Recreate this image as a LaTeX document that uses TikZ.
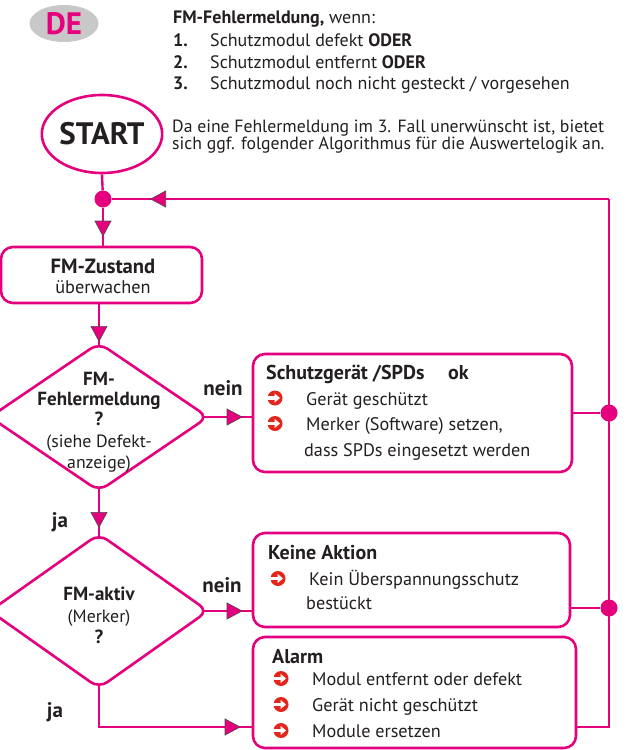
\documentclass[tikz,border=0pt]{standalone}
\usepackage{fontspec}
\setmainfont{PT Sans}
\usetikzlibrary{arrows.meta,decorations.markings,shapes.geometric}
\definecolor{mag}{HTML}{E5007D}
\definecolor{bred}{HTML}{E3261B}
\definecolor{txt}{HTML}{231F20}
\definecolor{degray}{HTML}{C8C8C8}
\tikzset{
  conn/.style={draw=mag,line width=2.4pt},
  arrowpos/.style={postaction={decorate},decoration={markings,
    mark=at position #1 with {\arrow{Triangle[length=16pt,width=17pt,fill=mag,color=black!70,line width=0.6pt]}}}},
  box/.style={draw=mag,line width=2.6pt,rounded corners=12pt,inner sep=0pt},
  jdot/.style={circle,fill=mag,minimum size=17pt,inner sep=0pt},
  tl/.style={text=txt,inner sep=0pt,anchor=base west,font=\fontsize{18.2}{18}\selectfont},
  tc/.style={text=txt,inner sep=0pt,anchor=base,font=\fontsize{18}{18}\selectfont},
  tb/.style={font=\fontsize{20}{20}\selectfont\bfseries},
  qb/.style={font=\fontsize{19}{19}\selectfont\bfseries},
  qr/.style={font=\fontsize{17.8}{18}\selectfont},
  yn/.style={font=\fontsize{21}{21}\selectfont\bfseries},
  hd/.style={text=txt,inner sep=0pt,anchor=base west,font=\fontsize{18}{18}\selectfont},
  hdb/.style={font=\fontsize{18}{18}\selectfont\bfseries},
  diam/.style={draw=mag,line width=2.6pt,rounded corners=10pt},
  bulpic/.pic={
    \fill[bred] (0,0) circle (7.5pt);
    \fill[white] (-8,-1.7) rectangle (0.5,1.7);
    \fill[white] (-0.5,-4.6) -- (5,0) -- (-0.5,4.6) -- cycle;
  },
}
\begin{document}
\begin{tikzpicture}[x=1pt,y=-1pt]
\useasboundingbox (0,0) rectangle (629,750);
\fill[white] (0,0) rectangle (629,750);

% header
\node[ellipse,fill=degray,minimum width=69pt,minimum height=37pt,inner sep=0pt,
  text=mag,font=\fontsize{31}{31}\selectfont\bfseries] (de) at (64,23.5) {DE};
\node[hd] (h0) at (173,23) {\bfseries FM-Fehlermeldung,\mdseries{} wenn:};
\node[hd,hdb] (n1) at (173,46.5) {1.};
\node[hd,hdb] (n2) at (173,68) {2.};
\node[hd,hdb] (n3) at (173,89) {3.};
\node[hd] (h1) at (210,46.5) {Schutzmodul defekt \textbf{ODER}};
\node[hd] (h2) at (210,68) {Schutzmodul entfernt \textbf{ODER}};
\node[hd] (h3) at (210,89) {Schutzmodul noch nicht gesteckt / vorgesehen};
\node[tl,font=\fontsize{17.7}{18}\selectfont] (p1) at (172,132) {Da eine Fehlermeldung im 3. Fall unerwünscht ist, bietet};
\node[tl,font=\fontsize{17.7}{18}\selectfont] (p2) at (172,149.5) {sich ggf. folgender Algorithmus für die Auswertelogik an.};

% start
\node[ellipse,draw=mag,line width=2.6pt,minimum width=102pt,minimum height=78pt,inner sep=0pt,
  text=txt,font=\fontsize{31}{31}\selectfont\bfseries] (start) at (102,134) {START};

% junctions and corners
\node[jdot] (j0) at (103,199) {};
\node[jdot] (j1) at (609,413) {};
\node[jdot] (j2) at (609,608) {};
\coordinate (ctr) at (609,199);

% boxes
\node[box,minimum width=201pt,minimum height=56pt] (fmz) at (101.5,275) {};
\node[box,minimum width=319pt,minimum height=118pt] (sch) at (412.5,413) {};
\node[box,minimum width=317pt,minimum height=94pt] (kein) at (411.5,580) {};
\node[box,minimum width=323pt,minimum height=111pt] (alarm) at (414.5,692.5) {};

% diamonds
\draw[diam] (99,343) -- (208,417) -- (99,491) -- (-10,417) -- cycle;
\coordinate (d1n) at (99,346);
\coordinate (d1e) at (202,417);
\coordinate (d1s) at (99,488);
\draw[diam] (99,534) -- (208,611) -- (99,688) -- (-10,611) -- cycle;
\coordinate (d2n) at (99,537);
\coordinate (d2e) at (202,611);
\coordinate (d2s) at (99,685);
\coordinate (bend) at (99,727);

% connectors
\draw[conn] (start.south) -- (j0);
\draw[conn,arrowpos=459pt] (ctr) -- (j0);
\draw[conn,arrowpos=-9pt] (j0) -- (j0 |- fmz.north);
\draw[conn,arrowpos=-4pt] (d1n |- fmz.south) -- (d1n);
\draw[conn,arrowpos=-9pt] (d1e) -- (d1e -| sch.west);
\draw[conn,arrowpos=-9pt] (d1s) -- (d2n);
\draw[conn,arrowpos=-9pt] (d2e) -- (d2e -| kein.west);
\draw[conn,arrowpos=-11pt] (d2s) -- (bend) -- (bend -| alarm.west);
\draw[conn] (j1 -| sch.east) -- (j1);
\draw[conn] (j2 -| kein.east) -- (j2);
\draw[conn] (bend -| alarm.east) -| (ctr);

% box texts
\node[tc,font=\fontsize{20.6}{20}\selectfont\bfseries] (t1) at (103,273) {FM-Zustand};
\node[tc,font=\fontsize{18.3}{18}\selectfont] (t2) at (103,293.5) {überwachen};

\node[tc,qb] (q1) at (99,385) {FM-};
\node[tc,qb] (q2) at (99,405) {Fehlermeldung};
\node[tc,qb] (q3) at (99,425) {?};
\node[tc,qr] (q4) at (99,447.5) {(siehe Defekt-};
\node[tc,qr] (q5) at (99,468.5) {anzeige)};

\node[tc,yn] (nein1) at (223,395) {nein};
\node[tc,yn] (ja1) at (60,527) {ja};
\node[tc,yn] (nein2) at (222,592) {nein};
\node[tc,yn] (ja2) at (55,717) {ja};

\node[tc,qb] (r1) at (99,600.5) {FM-aktiv};
\node[tc,qr] (r2) at (99,622.5) {(Merker)};
\node[tc,qb] (r3) at (99,643.5) {?};

\node[tl,tb] (s0) at (266,379) {Schutzgerät /SPDs};
\node[tl,tb] (s0b) at (448,379) {ok};
\pic at (275,398) {bulpic};
\node[tl] (s1) at (306,405) {Gerät geschützt};
\pic at (275,423.5) {bulpic};
\node[tl] (s2) at (306,430.5) {Merker (Software) setzen,};
\node[tl] (s3) at (304,456) {dass SPDs eingesetzt werden};

\node[tl,tb] (k0) at (268,559) {Keine Aktion};
\pic at (278,578.5) {bulpic};
\node[tl] (k1) at (309,585.5) {Kein Überspannungsschutz};
\node[tl] (k2) at (306,609.5) {bestückt};

\node[tl,tb] (a0) at (272,663) {Alarm};
\pic at (281,678.5) {bulpic};
\node[tl] (a1) at (312,685.5) {Modul entfernt oder defekt};
\pic at (281,704.5) {bulpic};
\node[tl] (a2) at (312,711.5) {Gerät nicht geschützt};
\pic at (281,730.5) {bulpic};
\node[tl] (a3) at (312,737.5) {Module ersetzen};
\end{tikzpicture}
\end{document}
